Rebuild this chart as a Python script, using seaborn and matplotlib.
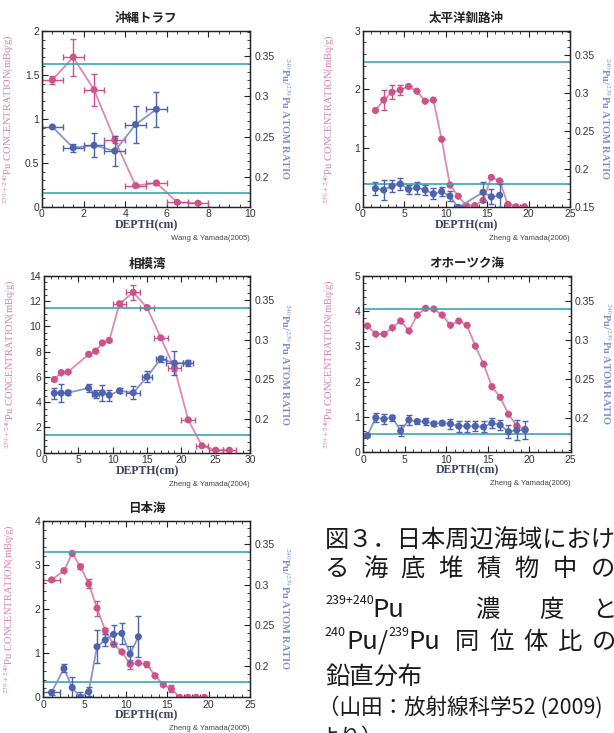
import numpy as np
import pandas as pd
import seaborn as sns
import matplotlib
matplotlib.use('Agg')
from matplotlib import pyplot as plt
from matplotlib.ticker import MultipleLocator, FuncFormatter

# ---- data ----
# 沖縄トラフ
ok_depth = [0.5, 1.5, 2.5, 3.5, 4.5, 5.5, 6.5, 7.5]
ok_pu = [1.44, 1.70, 1.33, 0.76, 0.24, 0.27, 0.05, 0.04]
ok_pu_err = [0.05, 0.21, 0.18, 0.04, 0.02, 0.02, 0.01, 0.01]
ok_pu_xerr = [0.5, 0.5, 0.5, 0.5, 0.5, 0.5, 0.5, 0.5]
ok_r_depth = [0.5, 1.5, 2.5, 3.5, 4.5, 5.5]
ok_ratio = [0.262, 0.236, 0.239, 0.232, 0.265, 0.284]
ok_ratio_err = [0.0, 0.005, 0.015, 0.019, 0.023, 0.022]
ok_ratio_xerr = [0.5, 0.5, 0.5, 0.5, 0.5, 0.5]

# 太平洋釧路沖
ku_depth = [1.5, 2.5, 3.5, 4.5, 5.5, 6.5, 7.5, 8.5, 9.5, 10.5, 11.5, 12.5, 13.5,
            14.5, 15.5, 16.5, 17.5, 18.5, 19.5]
ku_pu = [1.64, 1.82, 1.95, 1.99, 2.05, 1.97, 1.80, 1.82, 1.15, 0.37, 0.18, 0.02,
         0.02, 0.11, 0.50, 0.44, 0.04, 0.0, 0.0]
ku_pu_err = [0, 0.17, 0.12, 0.08, 0, 0, 0, 0, 0, 0, 0, 0, 0, 0, 0, 0, 0, 0, 0]
ku_pu_xerr = [0] * 19
ku_r_depth = [1.5, 2.5, 3.5, 4.5, 5.5, 6.5, 7.5, 8.5, 9.5, 10.5, 11.5, 14.5, 15.5, 16.5]
ku_ratio = [0.174, 0.172, 0.177, 0.180, 0.173, 0.175, 0.172, 0.167, 0.170, 0.164,
            0.149, 0.169, 0.163, 0.165]
ku_ratio_err = [0.009, 0.013, 0.008, 0.008, 0.006, 0.008, 0.006, 0.007, 0.006, 0.007,
                0.003, 0.013, 0.010, 0.015]
ku_ratio_xerr = [0] * 14

# 相模湾
sa_depth = [1.5, 2.5, 3.5, 6.5, 7.5, 8.5, 9.5, 11, 13, 15, 17, 19, 21, 23, 25, 27]
sa_pu = [5.8, 6.35, 6.4, 7.8, 8.05, 8.7, 8.9, 11.8, 12.7, 11.5, 9.1, 6.7, 2.6, 0.55, 0.2, 0.2]
sa_pu_err = [0.1, 0.1, 0.1, 0.1, 0.1, 0.1, 0.1, 0.2, 0.6, 0.1, 0.1, 0.2, 0.1, 0.05, 0.05, 0.05]
sa_pu_xerr = [0, 0, 0, 0, 0, 0, 0, 0.9, 1, 1, 1, 1, 1, 0.9, 1, 1]
sa_r_depth = [1.5, 2.5, 3.5, 6.5, 7.5, 8.5, 9.5, 11, 13, 15, 17, 19, 21]
sa_ratio = [0.2325, 0.2325, 0.233, 0.239, 0.231, 0.233, 0.230, 0.2355, 0.233, 0.253,
            0.276, 0.2705, 0.2705]
sa_ratio_err = [0.007, 0.011, 0.003, 0.005, 0.005, 0.01, 0.007, 0.003, 0.008, 0.007,
                0.004, 0.015, 0.004]
sa_ratio_xerr = [0, 0, 0, 0, 0.5, 0, 0, 0, 1, 0.7, 0.7, 1.3, 0.7]

# オホーツク海
oh_depth = [0.5, 1.5, 2.5, 3.5, 4.5, 5.5, 6.5, 7.5, 8.5, 9.5, 10.5, 11.5, 12.5, 13.5,
            14.5, 15.5, 16.5, 17.5, 18.5, 19.5]
oh_pu = [3.58, 3.35, 3.35, 3.53, 3.72, 3.44, 3.89, 4.08, 4.06, 3.89, 3.60, 3.72, 3.60,
         3.01, 2.50, 1.86, 1.56, 1.08, 0.75, 0.65]
oh_pu_err = [0] * 20
oh_pu_xerr = [0] * 20
oh_r_depth = oh_depth
oh_ratio = [0.178, 0.2008, 0.199, 0.2008, 0.184, 0.198, 0.196, 0.196, 0.193, 0.194,
            0.193, 0.190, 0.190, 0.190, 0.189, 0.194, 0.1915, 0.183, 0.185, 0.185]
oh_ratio_err = [0.002, 0.006, 0.006, 0.004, 0.007, 0.006, 0.003, 0.005, 0.003, 0.003,
                0.006, 0.007, 0.007, 0.006, 0.007, 0.006, 0.006, 0.008, 0.013, 0.011]
oh_ratio_xerr = [0] * 20

# 日本海
js_depth = [1, 2.5, 3.5, 4.5, 5.5, 6.5, 7.5, 8.5, 9.5, 10.5, 11.5, 12.5, 13.5, 14.5,
            15.5, 16.5, 17.5, 18.5, 19.5]
js_pu = [2.66, 2.87, 3.26, 2.96, 2.57, 2.02, 1.51, 1.20, 1.03, 0.75, 0.78, 0.75, 0.49,
         0.29, 0.19, 0.0, 0.0, 0.0, 0.0]
js_pu_err = [0.03, 0.03, 0.03, 0.06, 0.1, 0.17, 0.07, 0.03, 0.03, 0.1, 0.03, 0.06, 0.03,
             0.03, 0.08, 0, 0, 0, 0]
js_pu_xerr = [1] + [0] * 18
js_r_depth = [1, 2.5, 3.5, 4.5, 5.5, 6.5, 7.5, 8.5, 9.5, 10.5, 11.5]
js_ratio = [0.167, 0.1967, 0.173, 0.161, 0.168, 0.2235, 0.2317, 0.2387, 0.240, 0.2144, 0.2358]
js_ratio_err = [0.003, 0.005, 0.013, 0.006, 0.006, 0.02, 0.007, 0.012, 0.013, 0.01, 0.025]
js_ratio_xerr = [1] + [0] * 10

# reference ratios (global fallout / PPG)
ref_ratios = [0.18, 0.34]

PINK = '#cd5289'
PINK_LINE = '#dc8bb0'
PINK_LABEL = '#d77fa9'
BLUE = '#4e63ad'
BLUE_LINE = '#8796cc'
BLUE_LABEL = '#7d8fd0'
CYAN = '#3aa5b6'

sns.set_theme(style='ticks')
plt.rcParams['font.family'] = ['Liberation Sans', 'Noto Sans CJK JP']
plt.rcParams['axes.linewidth'] = 0.9
plt.rcParams['axes.edgecolor'] = '#222222'

fmt = FuncFormatter(lambda v, p: '%g' % round(v, 4))


def draw_panel(fig, rect, title, credit, pu_d, pu, pu_e, pu_xe, r_d, r, r_e, r_xe,
               xmax, xmaj, xmin, ymax, ymaj, ymin, rlim):
    ax = fig.add_axes(rect)
    ax2 = ax.twinx()

    # Pu concentration
    sns.lineplot(x=pu_d, y=pu, ax=ax, color=PINK_LINE, linewidth=1.3,
                 estimator=None, sort=False)
    ax.errorbar(pu_d, pu, yerr=pu_e, xerr=pu_xe, fmt='none', ecolor=PINK,
                elinewidth=1.0, capsize=2, capthick=1.0)
    sns.scatterplot(x=pu_d, y=pu, ax=ax, color=PINK, s=26, edgecolor='none', zorder=5)

    # atom ratio
    for v in ref_ratios:
        ax2.axhline(v, color=CYAN, linewidth=1.2)
    sns.lineplot(x=r_d, y=r, ax=ax2, color=BLUE_LINE, linewidth=1.3,
                 estimator=None, sort=False)
    ax2.errorbar(r_d, r, yerr=r_e, xerr=r_xe, fmt='none', ecolor=BLUE,
                 elinewidth=1.0, capsize=2, capthick=1.0)
    sns.scatterplot(x=r_d, y=r, ax=ax2, color=BLUE, s=26, edgecolor='none', zorder=5)

    ax.set_xlim(0, xmax)
    ax.set_ylim(0, ymax)
    ax2.set_ylim(*rlim)
    ax.xaxis.set_major_locator(MultipleLocator(xmaj))
    ax.xaxis.set_minor_locator(MultipleLocator(xmin))
    ax.yaxis.set_major_locator(MultipleLocator(ymaj))
    ax.yaxis.set_minor_locator(MultipleLocator(ymin))
    ax2.yaxis.set_major_locator(MultipleLocator(0.05))
    ax2.yaxis.set_minor_locator(MultipleLocator(0.01))
    ax.xaxis.set_major_formatter(fmt)
    ax.yaxis.set_major_formatter(fmt)
    ax2.yaxis.set_major_formatter(fmt)

    ax.tick_params(which='both', direction='in', top=True, right=False,
                   labelsize=7.5, labelcolor='#333333', color='#222222', pad=2)
    ax.tick_params(which='major', length=4, width=0.8)
    ax.tick_params(which='minor', length=2, width=0.6)
    ax2.tick_params(which='both', direction='in', right=True, left=False,
                    labelsize=7.5, labelcolor='#333333', color='#222222', pad=3)
    ax2.tick_params(which='major', length=4, width=0.8)
    ax2.tick_params(which='minor', length=2, width=0.6)

    ax.set_xlabel('DEPTH(cm)', family='Liberation Serif', fontweight='bold',
                  fontsize=8.5, color='#3b4060')
    ax.xaxis.set_label_coords(0.5, -0.07)
    ax.set_ylabel(r'$^{239+240}$Pu CONCENTRATION(mBq/g)', family='Liberation Serif',
                  fontsize=7.6, color=PINK_LABEL, math_fontfamily='stix')
    ax.yaxis.set_label_coords(-0.125, 0.5)
    ax2.set_ylabel(r'$^{240}$Pu/$^{239}$Pu ATOM RATIO', family='Liberation Serif',
                   fontsize=7.5, color=BLUE_LABEL, rotation=270, va='center',
                   fontweight='bold', math_fontfamily='stix')
    ax2.yaxis.set_label_coords(1.17, 0.5)

    ax.set_title(title, family=['Noto Sans CJK JP', 'DejaVu Sans'], fontweight='bold',
                 fontsize=9, color='#222222', pad=6)
    ax.text(1.0, -0.178, credit, transform=ax.transAxes, ha='right', va='center',
            fontsize=5.5, color='#444444')
    return ax, ax2


fig = plt.figure(figsize=(6.14, 7.33), dpi=100)

draw_panel(fig, [0.0684, 0.718, 0.3388, 0.2401], '沖縄トラフ', 'Wang & Yamada(2005)',
           ok_depth, ok_pu, ok_pu_err, ok_pu_xerr, ok_r_depth, ok_ratio, ok_ratio_err,
           ok_ratio_xerr, 10, 2, 0.5, 2, 0.5, 0.1, (0.1625, 0.382))
draw_panel(fig, [0.5912, 0.718, 0.3371, 0.2401], '太平洋釧路沖', 'Zheng & Yamada(2006)',
           ku_depth, ku_pu, ku_pu_err, ku_pu_xerr, ku_r_depth, ku_ratio, ku_ratio_err,
           ku_ratio_xerr, 25, 5, 1, 3, 1, 0.2, (0.15, 0.3816))
draw_panel(fig, [0.0717, 0.3824, 0.3355, 0.2411], '相模湾', 'Zheng & Yamada(2004)',
           sa_depth, sa_pu, sa_pu_err, sa_pu_xerr, sa_r_depth, sa_ratio, sa_ratio_err,
           sa_ratio_xerr, 30, 5, 1, 14, 2, 0.5, (0.157, 0.381))
draw_panel(fig, [0.5917, 0.3829, 0.3378, 0.2409], 'オホーツク海', 'Zheng & Yamada(2006)',
           oh_depth, oh_pu, oh_pu_err, oh_pu_xerr, oh_r_depth, oh_ratio, oh_ratio_err,
           oh_ratio_xerr, 25, 5, 1, 5, 1, 0.2, (0.1566, 0.382))
draw_panel(fig, [0.0705, 0.0487, 0.3366, 0.2409], '日本海', 'Zheng & Yamada(2005)',
           js_depth, js_pu, js_pu_err, js_pu_xerr, js_r_depth, js_ratio, js_ratio_err,
           js_ratio_xerr, 25, 5, 1, 4, 1, 0.2, (0.161, 0.379))

# ---- caption ----
cap_font = ['Noto Sans CJK JP', 'DejaVu Sans']
W, H = 614.0, 733.0


def put(px, py, s, size=17.5, ha='left'):
    fig.text(px / W, 1 - py / H, s, fontsize=size, ha=ha, va='center',
             family=cap_font, color='#1a1a1a')


put(325, 541, '図３．日本周辺海域におけ')
for i, ch in enumerate('る海底堆積物中の'):
    put(336.7 + i * 38, 569, ch, ha='center')
put(325, 601, '239+240', size=9)
put(372, 610, 'Pu', size=18.5)
for cx, ch in zip([487, 551, 604], '濃度と'):
    put(cx, 610, ch, ha='center')
put(324, 633, '240', size=9)
put(346, 642, 'Pu', size=18.5)
put(378, 642, '/', size=18.5)
put(388, 633, '239', size=9)
put(408, 642, 'Pu', size=18.5)
for i, ch in enumerate('同位体比の'):
    put(467 + i * 34.3, 642, ch, ha='center')
put(325, 677, '鉛直分布')
put(318, 707, '（山田：放射線科学52 (2009)', size=15.5)
put(318, 738, 'より）', size=15.5)

fig.savefig('out.png', dpi=100)
